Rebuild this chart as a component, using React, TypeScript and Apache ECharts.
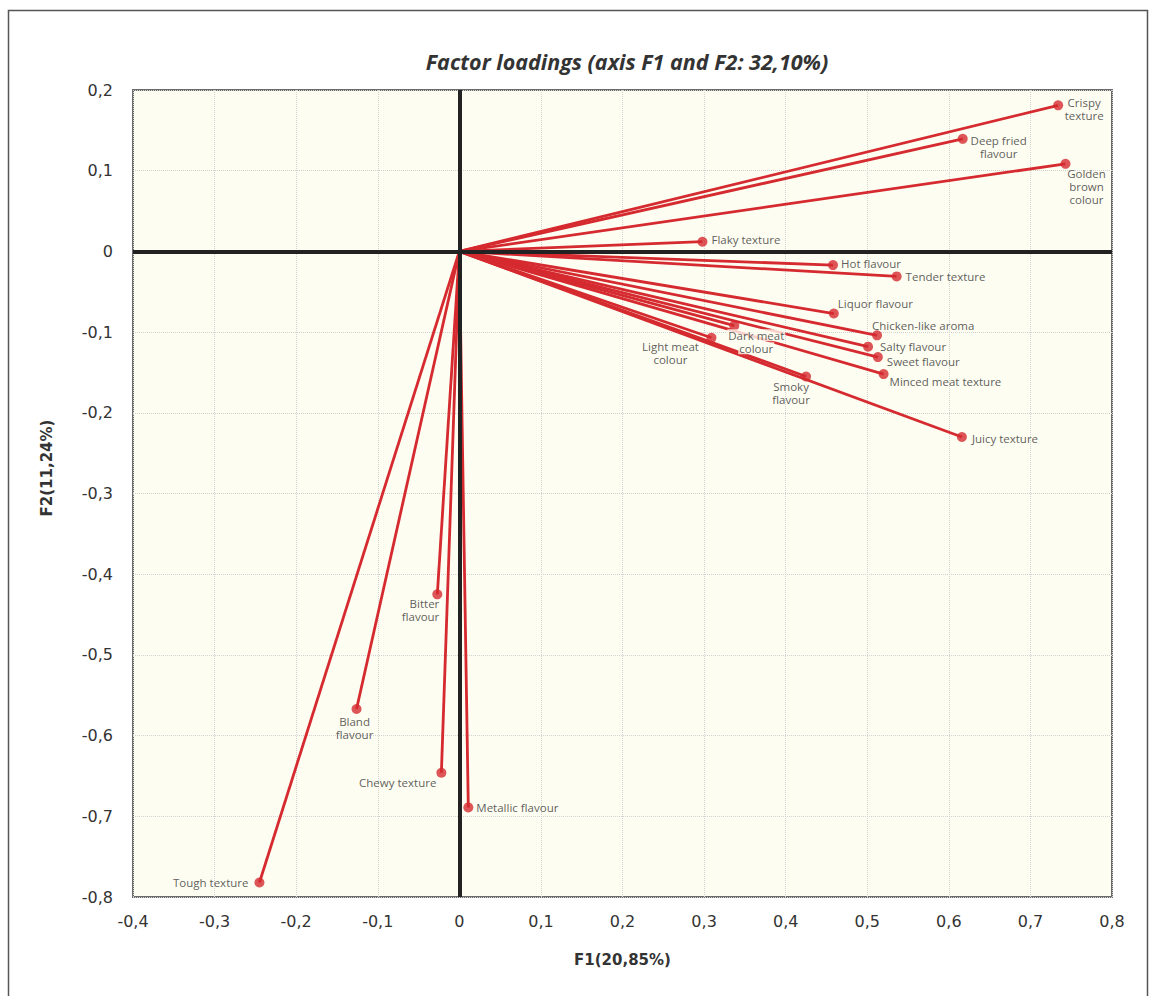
import React, { useEffect, useRef } from "react";
import * as echarts from "echarts";

// ---- data ----
const attributes = [
  "Crispy texture",
  "Deep fried flavour",
  "Golden brown colour",
  "Flaky texture",
  "Hot flavour",
  "Tender texture",
  "Liquor flavour",
  "Chicken-like aroma",
  "Salty flavour",
  "Sweet flavour",
  "Minced meat texture",
  "Smoky flavour",
  "Juicy texture",
  "Dark meat colour",
  "Light meat colour",
  "Bitter flavour",
  "Bland flavour",
  "Chewy texture",
  "Metallic flavour",
  "Tough texture",
];
const f1Loadings = [
  0.734, 0.617, 0.743, 0.298, 0.458, 0.536, 0.459, 0.512, 0.501, 0.513,
  0.52, 0.425, 0.616, 0.337, 0.309, -0.027, -0.126, -0.022, 0.011, -0.245,
];
const f2Loadings = [
  0.181, 0.1395, 0.1085, 0.012, -0.017, -0.031, -0.077, -0.104, -0.118, -0.131,
  -0.152, -0.155, -0.23, -0.092, -0.107, -0.425, -0.567, -0.646, -0.689, -0.782,
];
const xTickMin = -0.4;
const xTickMax = 0.8;
const yTickMin = -0.8;
const yTickMax = 0.2;
const tickStep = 0.1;

// ---- label layout (presentation only) ----
type LabelLayout = { text: string; align: string; dx: number; dy: number; bg?: boolean };
const labelLayouts: LabelLayout[] = [
  { text: "Crispy\ntexture", align: "center", dx: 26, dy: 4 },
  { text: "Deep fried\nflavour", align: "center", dx: 36, dy: 8 },
  { text: "Golden\nbrown\ncolour", align: "center", dx: 21, dy: 23 },
  { text: "Flaky texture", align: "left", dx: 9, dy: -2.5 },
  { text: "Hot flavour", align: "left", dx: 8, dy: -1.5 },
  { text: "Tender texture", align: "left", dx: 9, dy: 0 },
  { text: "Liquor flavour", align: "left", dx: 4, dy: -10 },
  { text: "Chicken-like aroma", align: "left", dx: -5, dy: -10 },
  { text: "Salty flavour", align: "left", dx: 12, dy: 0 },
  { text: "Sweet flavour", align: "left", dx: 9, dy: 4 },
  { text: "Minced meat texture", align: "left", dx: 6, dy: 7 },
  { text: "Smoky\nflavour", align: "center", dx: -15, dy: 17 },
  { text: "Juicy texture", align: "left", dx: 10, dy: 1.5 },
  { text: "Dark meat\ncolour", align: "center", dx: 22, dy: 16, bg: true },
  { text: "Light meat\ncolour", align: "center", dx: -41, dy: 15 },
  { text: "Bitter\nflavour", align: "right", dx: 2, dy: 16 },
  { text: "Bland\nflavour", align: "center", dx: -2, dy: 19 },
  { text: "Chewy texture", align: "right", dx: -5, dy: 10 },
  { text: "Metallic flavour", align: "left", dx: 8, dy: 0 },
  { text: "Tough texture", align: "right", dx: -11, dy: 0 },
];

const RED = "#D52A2F";
const PLOT_BG = "#FEFDF1";
const TEXT = "#333333";
const LABEL_SIZE = 11.5;
const LABEL_LINE = 13;
const fmt = (v: number) => (Math.abs(v) < 1e-9 ? "0" : v.toFixed(1).replace(".", ","));

export default function App() {
  const ref = useRef<HTMLDivElement>(null);

  useEffect(() => {
    if (!ref.current) return;
    const chart = echarts.init(ref.current, undefined, { renderer: "svg" });

    const points = attributes.map((name, i) => {
      const l = labelLayouts[i];
      const label: any = {
        show: true,
        formatter: l.bg
          ? l.text
              .split("\n")
              .map((s) => `{b|${s}}`)
              .join("\n")
          : l.text,
        position: "inside",
        offset: [l.dx, l.dy],
        align: l.align,
        verticalAlign: "middle",
        fontFamily: "Open Sans",
        fontSize: LABEL_SIZE,
        lineHeight: LABEL_LINE,
        color: TEXT,
      };
      if (l.bg) {
        label.rich = {
          b: {
            fontFamily: "Open Sans",
            fontSize: LABEL_SIZE,
            lineHeight: LABEL_LINE,
            color: TEXT,
            backgroundColor: PLOT_BG,
            padding: [0, 1, 0, 1],
          },
        };
      }
      return { name, value: [f1Loadings[i], f2Loadings[i]], label };
    });

    const vectors = attributes.map((name, i) => ({
      name,
      coords: [
        [0, 0],
        [f1Loadings[i], f2Loadings[i]],
      ],
    }));

    chart.setOption({
      animation: false,
      backgroundColor: "#ffffff",
      title: {
        text: "Factor loadings (axis F1 and F2: 32,10%)",
        left: 622,
        top: 45,
        textAlign: "center",
        textStyle: {
          fontFamily: "Open Sans",
          fontStyle: "italic",
          fontWeight: "bold",
          fontSize: 21.5,
          color: TEXT,
        },
      },
      grid: {
        left: 133,
        right: 39,
        top: 90,
        bottom: 99,
        show: true,
        backgroundColor: PLOT_BG,
        borderColor: "#6a6a6a",
        borderWidth: 2,
      },
      xAxis: {
        type: "value",
        min: xTickMin,
        max: xTickMax,
        interval: tickStep,
        axisLine: { show: false },
        axisTick: { show: false },
        axisLabel: {
          formatter: fmt,
          fontFamily: "DejaVu Sans",
          fontSize: 16,
          color: TEXT,
          margin: 16,
        },
        splitLine: { show: true, lineStyle: { color: "#d2d2d2", type: "dotted", width: 1 } },
        name: "F1(20,85%)",
        nameLocation: "middle",
        nameGap: 55,
        nameTextStyle: {
          fontFamily: "DejaVu Sans",
          fontWeight: "bold",
          fontSize: 15,
          color: TEXT,
        },
      },
      yAxis: {
        type: "value",
        min: yTickMin,
        max: yTickMax,
        interval: tickStep,
        axisLine: { show: false },
        axisTick: { show: false },
        axisLabel: {
          formatter: fmt,
          fontFamily: "DejaVu Sans",
          fontSize: 16,
          color: TEXT,
          margin: 20,
        },
        splitLine: { show: true, lineStyle: { color: "#d2d2d2", type: "dotted", width: 1 } },
      },
      graphic: [
        {
          type: "rect",
          shape: { x: 8.5, y: 10.5, width: 1139, height: 1000 },
          style: { fill: "none", stroke: "#555555", lineWidth: 1.5 },
          silent: true,
          z: -10,
        },
        {
          type: "text",
          x: 47,
          y: 468,
          rotation: Math.PI / 2,
          style: {
            text: "F2(11,24%)",
            fontFamily: "DejaVu Sans",
            fontWeight: "bold",
            fontSize: 15,
            fill: TEXT,
            align: "center",
            verticalAlign: "middle",
          },
        },
      ],
      series: [
        {
          type: "scatter",
          data: [[0, 0]],
          symbolSize: 0,
          silent: true,
          z: 1,
          markLine: {
            silent: true,
            symbol: ["none", "none"],
            label: { show: false },
            lineStyle: { color: "#222222", width: 4, type: "solid" },
            data: [{ xAxis: 0 }, { yAxis: 0 }],
          },
        },
        {
          type: "lines",
          coordinateSystem: "cartesian2d",
          polyline: false,
          silent: true,
          z: 2,
          lineStyle: { color: RED, width: 2.8, opacity: 1 },
          data: vectors,
        },
        {
          type: "scatter",
          symbol: "circle",
          symbolSize: 10,
          z: 3,
          itemStyle: { color: RED },
          data: points,
        },
      ],
    });

    return () => chart.dispose();
  }, []);

  return (
    <div
      ref={ref}
      style={{ position: "absolute", left: 0, top: 0, width: 1151, height: 996 }}
    />
  );
}
